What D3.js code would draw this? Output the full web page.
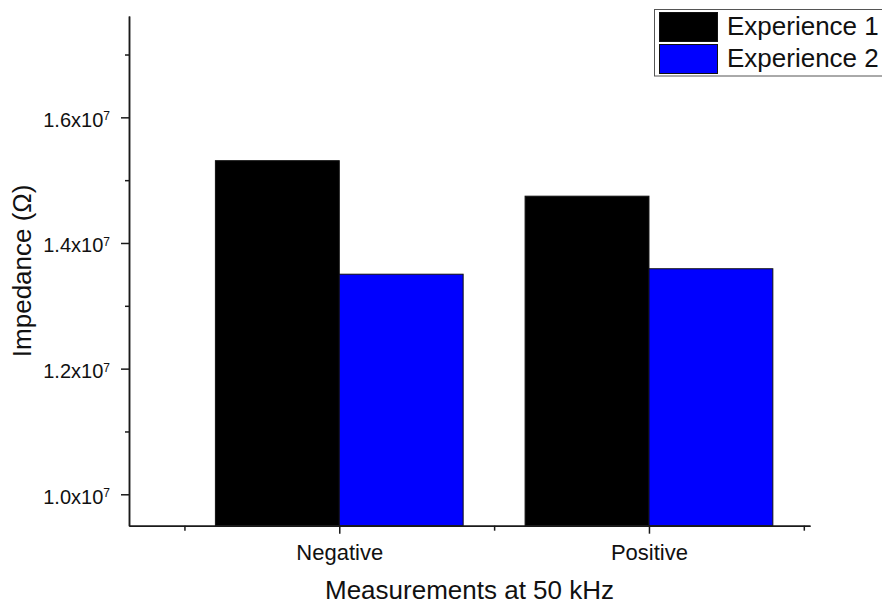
<!doctype html>
<html lang="en">
<head>
<meta charset="UTF-8">
<title>Impedance at 50 kHz</title>
<script src="https://d3js.org/d3.v7.min.js"></script>
<style>
body { margin: 0; background-color: #ffffff; font-family: Arial, "Liberation Sans", sans-serif; }
svg { display: block; }
.axis path, .axis line { stroke: #1a1a1a; stroke-width: 1.5; }
.axis text { font-family: Arial, "Liberation Sans", sans-serif; fill: #111; }
</style>
</head>
<body>
<div id="plot"></div>
<script>

var categories = ["Negative", "Positive"];
var seriesNames = ["Experience 1", "Experience 2"];
var experience1 = [1.531e7, 1.4745e7];
var experience2 = [1.3503e7, 1.359e7];
var yMajorTicks = [1.0e7, 1.2e7, 1.4e7, 1.6e7];
var yMinorTicks = [1.1e7, 1.3e7, 1.5e7, 1.7e7];
var xMinorTicks = [0.5, 1.5, 2.5];

var width = 882;
var height = 604;
var plotLeft = 129, plotRight = 810, plotTop = 16, plotBottom = 525.7;
var colors = ["#000000", "#0000ff"];

var svg = d3.select("#plot").append("svg")
.attr("width", width)
.attr("height", height);

var xScale = d3.scaleLinear().domain([0.321, 2.52]).range([plotLeft, plotRight]);
var yScale = d3.scaleLinear().domain([0.95e7, 1.7613e7]).range([plotBottom, plotTop]);

var series = [experience1, experience2];
var barWidth = 0.4;

series.forEach(function (values, s) {
	values.forEach(function (v, i) {
		var x0 = (i + 1) - barWidth + s * barWidth;
		svg.append("rect")
		.attr("x", xScale(x0))
		.attr("y", yScale(v))
		.attr("width", xScale(x0 + barWidth) - xScale(x0))
		.attr("height", plotBottom - yScale(v))
		.style("fill", colors[s])
		.style("stroke", "#111")
		.style("stroke-width", 1);
	});
});

// minor ticks first, majors on top
svg.append("g")
.attr("class", "axis")
.attr("transform", "translate(" + plotLeft + ",0)")
.call(d3.axisLeft(yScale).tickValues(yMinorTicks).tickSize(4).tickSizeOuter(0).tickFormat(""));

var yAxis = svg.append("g")
.attr("class", "axis")
.attr("transform", "translate(" + plotLeft + ",0)")
.call(d3.axisLeft(yScale).tickValues(yMajorTicks).tickSize(8).tickSizeOuter(0).tickPadding(11));

yAxis.selectAll(".tick text").each(function (d) {
	var t = d3.select(this);
	t.text("").attr("dy", "0.45em").style("font-size", "20px");
	t.append("tspan").text((d / 1e7).toFixed(1) + "x10");
	t.append("tspan").attr("dy", "-0.55em").style("font-size", "12px").text("7");
});

svg.append("g")
.attr("class", "axis")
.attr("transform", "translate(0," + plotBottom + ")")
.call(d3.axisBottom(xScale).tickValues(xMinorTicks).tickSize(5).tickSizeOuter(0).tickFormat(""));

var xAxis = svg.append("g")
.attr("class", "axis")
.attr("transform", "translate(0," + plotBottom + ")")
.call(d3.axisBottom(xScale).tickValues([1, 2]).tickSize(8).tickSizeOuter(0)
	.tickFormat(function (d) { return categories[d - 1]; }));

xAxis.selectAll(".tick text")
.attr("y", 19)
.style("font-size", "22px");

svg.append("text")
.attr("x", (plotLeft + plotRight) / 2)
.attr("y", 599)
.attr("text-anchor", "middle")
.style("font-size", "26px")
.style("fill", "#111")
.text("Measurements at 50 kHz");

svg.append("text")
.attr("transform", "translate(31," + ((plotTop + plotBottom) / 2) + ") rotate(-90)")
.attr("text-anchor", "middle")
.style("font-size", "26px")
.style("fill", "#111")
.text("Impedance (\u03A9)");

// legend
var legend = svg.append("g");
legend.append("rect")
.attr("x", 654.5)
.attr("y", 9.5)
.attr("width", 240)
.attr("height", 66.5)
.style("fill", "#fff")
.style("stroke", "#555")
.style("stroke-width", 1);

seriesNames.forEach(function (name, i) {
	legend.append("rect")
	.attr("x", 659.5)
	.attr("y", 12.5 + i * 32)
	.attr("width", 58)
	.attr("height", 29)
	.style("fill", colors[i])
	.style("stroke", "#111")
	.style("stroke-width", 1);
	legend.append("text")
	.attr("x", 727)
	.attr("y", 35 + i * 32)
	.style("font-size", "26px")
	.style("fill", "#111")
	.text(name);
});

</script>
</body>
</html>
